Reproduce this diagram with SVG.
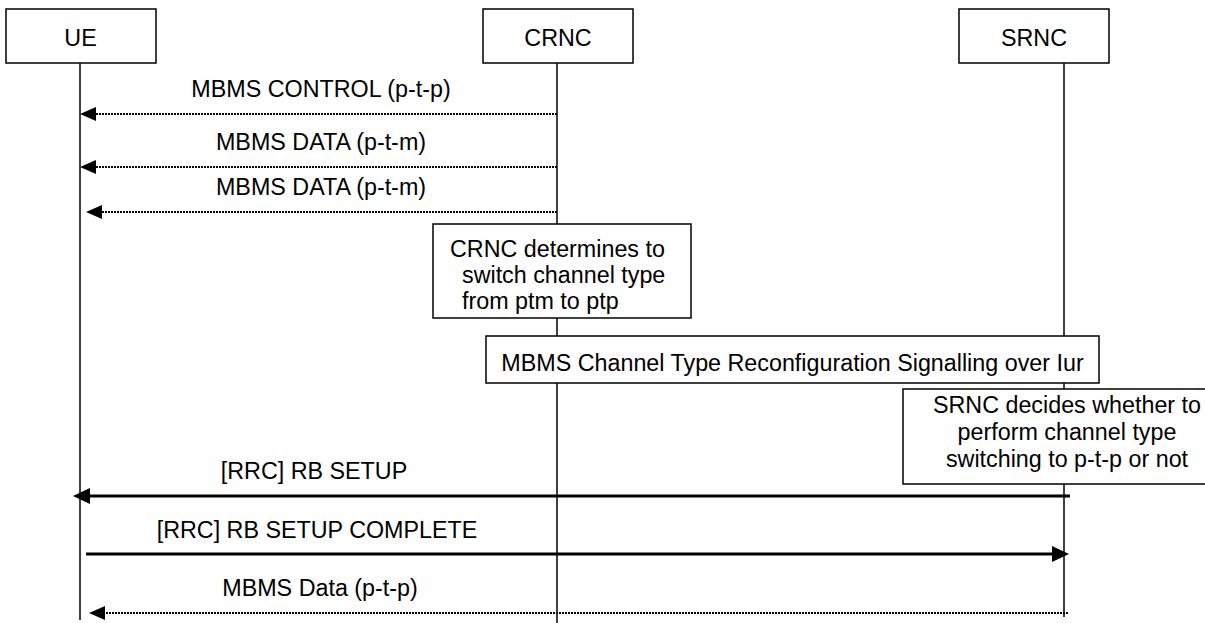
<svg xmlns="http://www.w3.org/2000/svg" width="1205" height="623" viewBox="0 0 1205 623">
<style>
text{font-family:"Liberation Sans",Arial,sans-serif;font-size:23.3px;fill:#000}
.box{fill:#fff;stroke:#000;stroke-width:1.5}
.life{stroke:#000;stroke-width:1.5;fill:none}
.dot{stroke:#000;stroke-width:2.2;stroke-dasharray:2 1;fill:none;marker-end:url(#ahDot)}
.sol{stroke:#000;stroke-width:3;fill:none;marker-end:url(#ahSol)}
.mid{text-anchor:middle}
</style>
<defs>
<marker id="ahDot" markerUnits="userSpaceOnUse" viewBox="0 0 16 14" refX="6" refY="7" markerWidth="16" markerHeight="14" orient="auto"><path d="M0,0 L16,7 L0,14 z" fill="#000"/></marker>
<marker id="ahSol" markerUnits="userSpaceOnUse" viewBox="0 0 17 16" refX="7" refY="8" markerWidth="17" markerHeight="16" orient="auto"><path d="M0,0 L17,8 L0,16 z" fill="#000"/></marker>
</defs>
<rect width="1205" height="623" fill="#fff"/>
<g id="lifelines">
<line class="life" x1="80" y1="63" x2="80" y2="620"/>
<line class="life" x1="557" y1="63" x2="557" y2="623"/>
<line class="life" x1="1064" y1="61" x2="1064" y2="617"/>
</g>
<g id="node-ue"><rect class="box" x="6" y="9" width="150" height="54"/><text class="mid" x="80.5" y="46">UE</text></g>
<g id="node-crnc"><rect class="box" x="483" y="9" width="150" height="54"/><text class="mid" x="558" y="46">CRNC</text></g>
<g id="node-srnc"><rect class="box" x="959" y="9" width="150" height="54"/><text class="mid" x="1034" y="46">SRNC</text></g>
<g id="node-crnc-decision"><rect class="box" x="433" y="224" width="258" height="94"/>
<text x="450" y="257">CRNC determines to</text>
<text x="462" y="283">switch channel type</text>
<text x="462" y="309">from ptm to ptp</text></g>
<g id="node-iur-signalling"><rect class="box" x="486" y="336" width="613" height="47"/>
<text class="mid" x="792.5" y="371">MBMS Channel Type Reconfiguration Signalling over Iur</text></g>
<g id="node-srnc-decision"><rect class="box" x="903" y="389" width="330" height="95"/>
<text class="mid" x="1067" y="413">SRNC decides whether to</text>
<text class="mid" x="1067" y="440">perform channel type</text>
<text class="mid" x="1067" y="467">switching to p-t-p or not</text></g>
<g id="connectors">
<path class="dot" d="M557,114 H90"/>
<path class="dot" d="M557,167 H90"/>
<path class="dot" d="M557,212 H96"/>
<path class="sol" d="M1070,496 H83"/>
<path class="sol" d="M86,554 H1059"/>
<path class="dot" d="M1068,613 H99"/>
<text class="mid" x="321" y="97">MBMS CONTROL (p-t-p)</text>
<text class="mid" x="321" y="150">MBMS DATA (p-t-m)</text>
<text class="mid" x="321" y="195">MBMS DATA (p-t-m)</text>
<text class="mid" x="314" y="479">[RRC] RB SETUP</text>
<text class="mid" x="317" y="538">[RRC] RB SETUP COMPLETE</text>
<text class="mid" x="320" y="596">MBMS Data (p-t-p)</text>
</g>
</svg>
